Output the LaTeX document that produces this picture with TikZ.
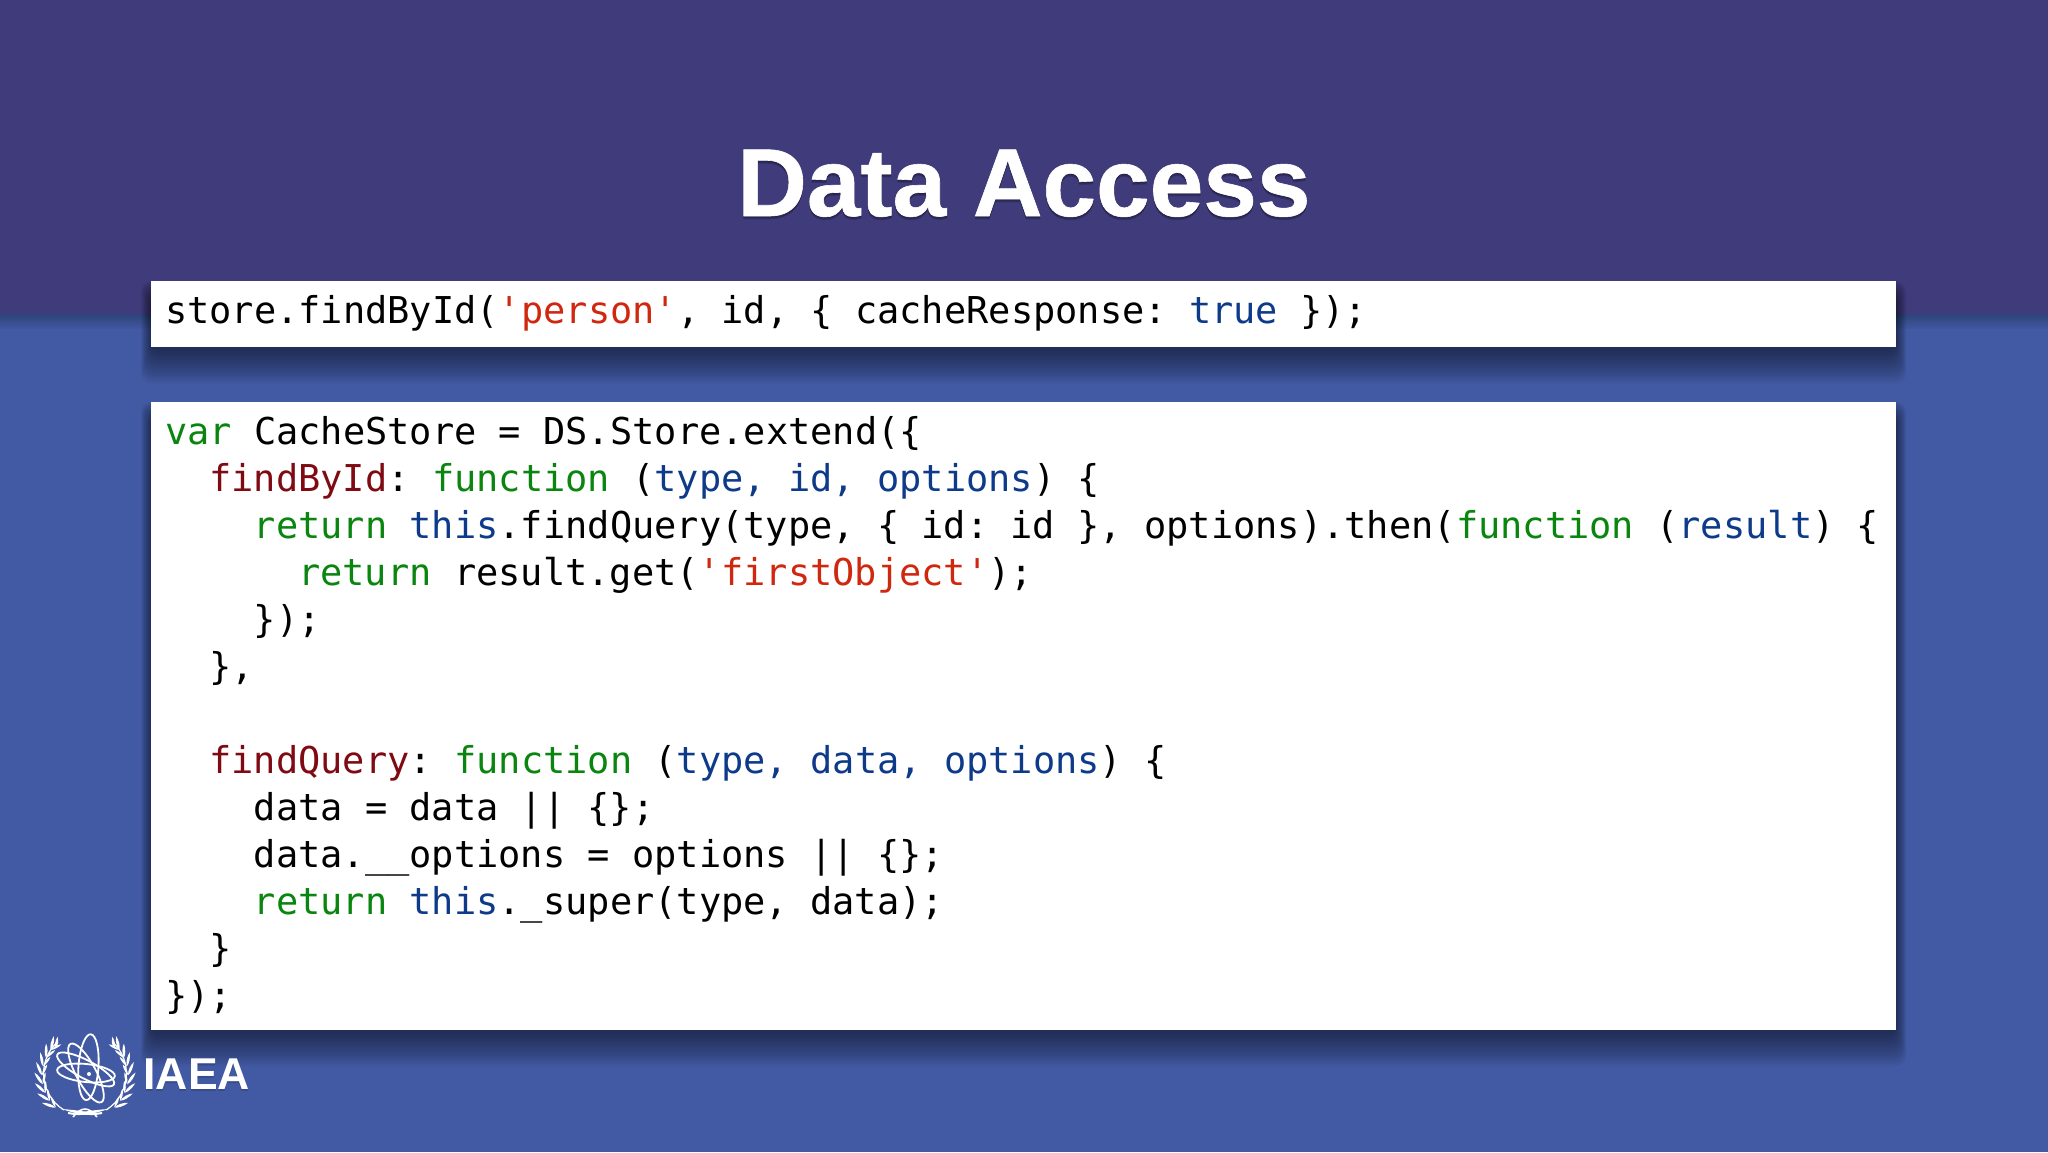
\documentclass[tikz,border=0pt]{standalone}
\usepackage{fontspec}
\setmainfont{Liberation Sans}
\newfontfamily\codefont{DejaVu Sans Mono}
\definecolor{bandtop}{HTML}{403B7B}
\definecolor{bandlow}{HTML}{425AA3}
\definecolor{kwgreen}{HTML}{0A850F}
\definecolor{strred}{HTML}{D0280F}
\definecolor{keyred}{HTML}{7F0A12}
\definecolor{argblue}{HTML}{0E3A8A}
\newcommand{\kw}[1]{\textcolor{kwgreen}{#1}}
\newcommand{\st}[1]{\textcolor{strred}{#1}}
\newcommand{\ky}[1]{\textcolor{keyred}{#1}}
\newcommand{\ar}[1]{\textcolor{argblue}{#1}}
\tikzset{
  codeline/.style={anchor=base west,inner sep=0pt,outer sep=0pt,text=black,font=\frenchspacing\codefont\fontsize{18.49}{22}\selectfont},
  whitebox/.style={fill=white,draw=none,inner sep=0pt,outer sep=0pt,anchor=north west},
  titletext/.style={anchor=base,inner sep=0pt,font=\bfseries\addfontfeature{FakeBold=0.6}\fontsize{48.2}{56}\selectfont},
  logotext/.style={anchor=base west,inner sep=0pt,text=white,font=\bfseries\fontsize{22.3}{26}\selectfont},
  orbit/.style={draw=white,line width=0.9pt,fill=none},
  wreathleaf/.style={fill=white,draw=none},
}
\begin{document}
\begin{tikzpicture}[x=0.5pt,y=-0.5pt]
\useasboundingbox (0,0) rectangle (2048,1152);
\fill[bandlow] (0,0) rectangle (2048,1152);
% band shadow
\foreach \i in {1,...,10}{
  \fill[black,opacity=0.025] (0,314) rectangle (2048,314+\i*1.5);
}
\fill[bandtop] (0,0) rectangle (2048,314);
% box shadows
\foreach \i in {0,...,13}{
  \fill[black,opacity=0.04,rounded corners=5pt] (151-10+\i*0.75,281+\i) rectangle (1896+10-\i*0.75,347+36-2.5*\i);
  \fill[black,opacity=0.04,rounded corners=5pt] (151-10+\i*0.75,402+\i) rectangle (1896+10-\i*0.75,1030+36-2.5*\i);
}
\node[whitebox,minimum width=872.5pt,minimum height=33pt] (box1) at (151,281) {};
\node[whitebox,minimum width=872.5pt,minimum height=314pt] (box2) at (151,402) {};
% title
\foreach \o in {1,2,3}{
  \node[titletext,text=black,opacity=0.13] at (1024,216+\o) {Data Access};
}
\node[titletext,text=white] (title) at (1024,216) {Data Access};
% code
\node[codeline] (a0) at (165,323) {store.findById(\st{'person'}, id, \{ cacheResponse: \ar{true} \});};
\node[codeline] (l1) at (165,444) {\kw{var} CacheStore = DS.Store.extend(\{};
\node[codeline] (l2) at (209.4,491) {\ky{findById}: \kw{function} (\ar{type, id, options}) \{};
\node[codeline] (l3) at (253.8,538) {\kw{return} \ar{this}.findQuery(type, \{ id: id \}, options).then(\kw{function} (\ar{result}) \{};
\node[codeline] (l4) at (298.2,585) {\kw{return} result.get(\st{'firstObject'});};
\node[codeline] (l5) at (253.8,632) {\});};
\node[codeline] (l6) at (209.4,679) {\},};
\node[codeline] (l8) at (209.4,773) {\ky{findQuery}: \kw{function} (\ar{type, data, options}) \{};
\node[codeline] (l9) at (253.8,820) {data = data || \{\};};
\node[codeline] (l10) at (253.8,867) {data.\_\_options = options || \{\};};
\node[codeline] (l11) at (253.8,914) {\kw{return} \ar{this}.\_super(type, data);};
\node[codeline] (l12) at (209.4,961) {\}};
\node[codeline] (l13) at (165,1008) {\});};
% logo text
\node[logotext,text=black,opacity=0.15] at (143,1091) {IAEA};
\node[logotext] (iaea) at (143,1089) {IAEA};
% atom
\begin{scope}[shift={(86,1073)},x=0.5pt,y=0.5pt]
  \draw[orbit,rotate=-4] (2,6) ellipse [x radius=10,y radius=33];
  \draw[orbit,rotate=28] (0,0) ellipse [x radius=10,y radius=33];
  \draw[orbit,rotate=-6] (0,0) ellipse [x radius=29,y radius=9];
  \draw[orbit,rotate=-28] (-2,3) ellipse [x radius=32,y radius=9];
  \fill[white] (3,-1) circle (2);
\end{scope}
% wreath
\foreach \m in {1,-1}{
\begin{scope}[shift={(85,1076)},x=0.5pt,y=0.5pt,xscale=\m]
  \draw[white,line width=0.6pt] (238:40) arc (238:135:43);
  \foreach \a in {143,155,167,179,191,203,215,227}{
    \begin{scope}[shift={(\a:43)},rotate=\a-90]
      \fill[wreathleaf] (0,0) .. controls (2,3) and (8,5.5) .. (13,6) .. controls (10,2.5) and (5,0) .. (0,0) -- cycle;
      \fill[wreathleaf] (0,0) .. controls (2,-2) and (7,-5) .. (11,-5) .. controls (8,-1.5) and (4,0) .. (0,0) -- cycle;
    \end{scope}
  }
  \fill[wreathleaf] (135:43) .. controls (130:46) and (127:47) .. (125:48) .. controls (128:42) and (131:41) .. (135:41) -- cycle;
  \fill[wreathleaf] (17,-36) .. controls (8,-38) and (-4,-34) .. (-24,-33) .. controls (-10,-37) and (2,-41) .. (17,-38) -- cycle;
  \draw[white,line width=0.8pt] (0,-33) .. controls (-4,-33) and (-8,-36) .. (-12,-41);
\end{scope}
}
\end{tikzpicture}
\end{document}
